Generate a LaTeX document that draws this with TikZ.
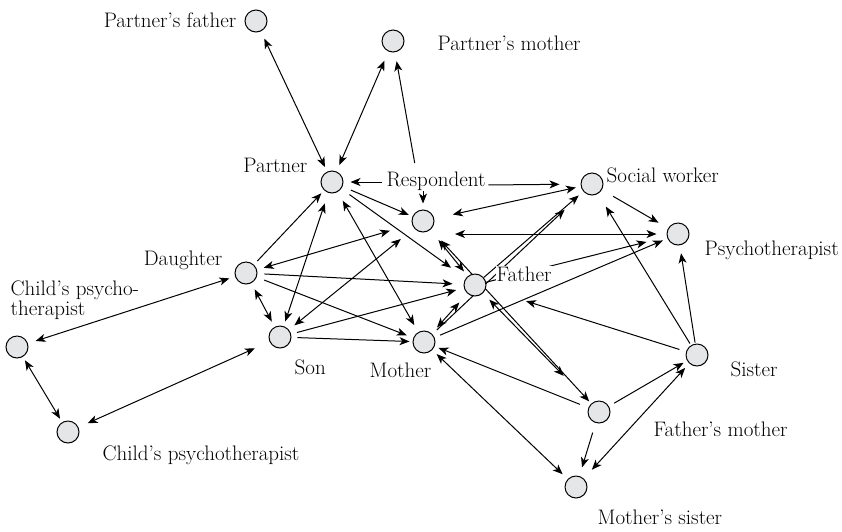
\documentclass[tikz,border=0pt]{standalone}
\usepackage{fontspec}
\usetikzlibrary{arrows.meta}
\definecolor{nodefill}{RGB}{229,230,232}
\pgfdeclarelayer{bg}
\pgfsetlayers{bg,main}
\tikzset{
  pers/.style={circle, draw=black, line width=1pt, fill=nodefill, minimum size=22pt, inner sep=0pt},
  lbl/.style={font=\fontsize{21}{20.3}\selectfont, inner sep=0.5pt},
  arr/.style={line width=1pt, -{Stealth[length=10pt,width=8pt,inset=2.8pt]}},
  dbl/.style={line width=1pt, {Stealth[length=10pt,width=8pt,inset=2.8pt]}-{Stealth[length=10pt,width=8pt,inset=2.8pt]}},
}
\begin{document}
\begin{tikzpicture}[x=1pt,y=-1pt]
\useasboundingbox (0,0) rectangle (842,531);
% people
\node[pers] (PF) at (256,21) {};
\node[pers] (PM) at (393,41) {};
\node[pers] (P)  at (332,182) {};
\node[pers] (R)  at (423,221) {};
\node[pers] (SW) at (592,184) {};
\node[pers] (Ps) at (678,234) {};
\node[pers] (D)  at (246,273) {};
\node[pers] (F)  at (475,285) {};
\node[pers] (S)  at (280,337) {};
\node[pers] (M)  at (424,342) {};
\node[pers] (C1) at (17,347) {};
\node[pers] (C2) at (68,432) {};
\node[pers] (Si) at (697,355) {};
\node[pers] (FM) at (599,412) {};
\node[pers] (MS) at (576,487) {};
% labels
\node[lbl, anchor=east] (PFl) at (237,20) {Partner's father};
\node[lbl, anchor=west] (PMl) at (437,43) {Partner's mother};
\node[lbl, anchor=east] (Pl) at (308,165) {Partner};
\node[lbl, anchor=west] (RL) at (386,181) {Respondent};
\node[lbl, anchor=west] (SWl) at (606,175) {Social worker};
\node[lbl, anchor=west] (Psl) at (704,250) {Psychotherapist};
\node[lbl, anchor=east] (Dl) at (223,260) {Daughter};
\node[lbl, anchor=north west, align=left] (C1l) at (10,280) {Child's psycho-\\therapist};
\node[lbl, anchor=west] (Sl) at (294,367) {Son};
\node[lbl, anchor=east] (Ml) at (432,370) {Mother};
\node[lbl, anchor=west, fill=white] (Fl) at (496,274) {Father};
\node[lbl, anchor=west] (Sil) at (730,369) {Sister};
\node[lbl, anchor=west] (FMl) at (653,429) {Father's mother};
\node[lbl, anchor=west] (MSl) at (597,517) {Mother's sister};
\node[lbl, anchor=west] (C2l) at (102,455) {Child's psychotherapist};
% connectors
\begin{pgfonlayer}{bg}
\draw[dbl, shorten <=8pt, shorten >=5pt] (PF) -- (P);
\draw[dbl, shorten <=7pt, shorten >=10pt] (P) -- (PM);
\draw[arr, shorten <=8pt, shorten >=9pt] ([xshift=-20pt]RL.north) -- (PM);
\draw[arr, shorten <=4pt, shorten >=7pt] (RL.west |- P) -- (P);
\draw[arr, shorten >=6pt] (RL.south -| R) -- (R);
\draw[arr, shorten <=2pt, shorten >=21pt] ([yshift=-4pt]RL.east) -- (SW);
\draw[arr, shorten <=9pt, shorten >=4pt] (P) -- (R);
\draw[arr, shorten <=10pt, shorten >=18pt] (P) -- (F);
\draw[dbl, shorten <=10pt, shorten >=8pt] (P) -- (M);
\draw[dbl, shorten <=11pt, shorten >=5pt] (P) -- (S);
\draw[arr, shorten <=5pt, shorten >=4pt] (D) -- (P);
\draw[dbl, shorten <=7pt, shorten >=23pt] (D) -- (R);
\draw[arr, shorten <=7pt, shorten >=11pt] (D) -- (F);
\draw[arr, shorten <=8pt, shorten >=7pt] (D) -- (M);
\draw[dbl, shorten <=7pt, shorten >=6pt] (D) -- (S);
\draw[dbl, shorten <=8pt, shorten >=6pt] (C1) -- (D);
\draw[dbl, shorten <=7pt, shorten >=17pt] (S) -- (R);
\draw[arr, shorten <=6pt, shorten >=8pt] (S) -- (F);
\draw[arr, shorten <=6pt, shorten >=3pt] (S) -- (M);
\draw[dbl, shorten <=10pt, shorten >=16pt] (C2) -- (S);
\draw[dbl, shorten <=4pt, shorten >=4pt] (C1) -- (C2);
\draw[dbl, shorten <=13pt, shorten >=6pt] (R) -- (F);
\draw[dbl, shorten <=15pt, shorten >=3pt] (R) -- (FM);
\draw[dbl, shorten <=9pt, shorten >=39pt] (F) -- (FM);
\draw[dbl, shorten <=32pt, shorten >=10pt] (R |- Ps) -- (Ps);
\draw[dbl, shorten <=19pt, shorten >=5pt] (R) -- (SW);
\draw[arr, shorten <=13pt, shorten >=11pt] (SW) -- (Ps);
\draw[arr, shorten <=2pt, shorten >=15pt] (Si) -- (SW);
\draw[arr, shorten <=1pt, shorten >=8pt] (Si) -- (Ps);
\draw[arr, shorten <=7pt, shorten >=42pt] (Si) -- (F);
\draw[arr, shorten >=21pt] (F) -- (Ps);
\draw[arr, shorten <=6pt, shorten >=5pt] (M) -- (Ps);
\draw[arr, shorten <=6pt, shorten >=26pt] (M) -- (SW);
\draw[arr, shorten >=6pt] (F) -- (SW);
\draw[dbl, shorten <=8pt, shorten >=12pt] (M) -- (F);
\draw[arr, shorten <=9pt, shorten >=4pt] (FM) -- (M);
\draw[dbl, shorten <=6pt, shorten >=7pt] (M) -- (MS);
\draw[arr, shorten <=6pt, shorten >=4pt] (FM) -- (Si);
\draw[dbl, shorten <=12pt, shorten >=6pt] (MS) -- (Si);
\draw[arr, shorten <=10pt, shorten >=9pt] (FM) -- (MS);
\end{pgfonlayer}
\end{tikzpicture}
\end{document}
